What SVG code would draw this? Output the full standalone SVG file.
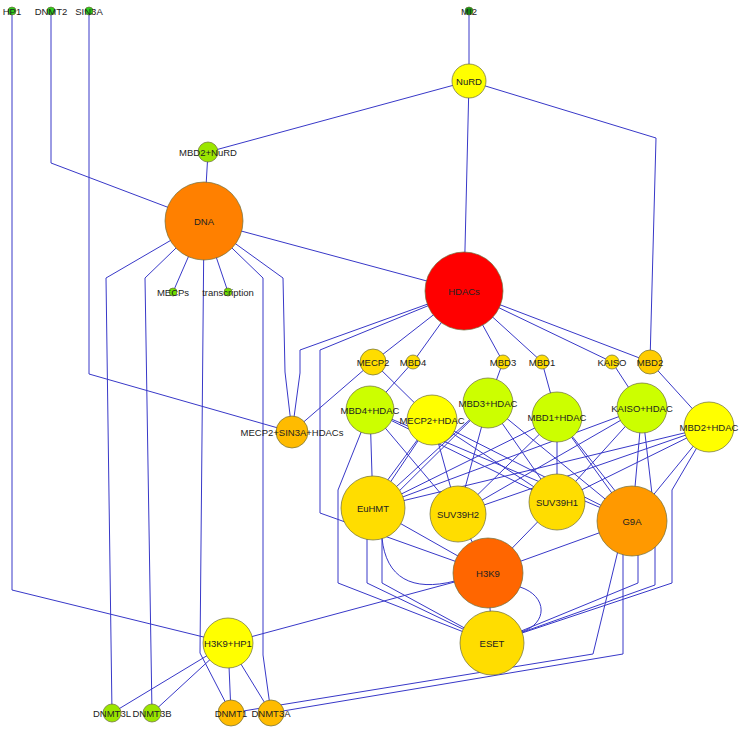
<svg xmlns="http://www.w3.org/2000/svg" width="740" height="729" viewBox="0 0 740 729">
<style>
.e{fill:none;stroke:#3838c8;stroke-width:1}
.n{stroke:#6b6b3a;stroke-width:0.7}
text{font-family:"Liberation Sans",Arial,sans-serif;font-size:9.5px;fill:#222;text-anchor:middle}
.g1{fill:#2ccf1c}.g2{fill:#129a12}.g3{fill:#6ee000}.g4{fill:#9be600}.yg{fill:#ccff00}
.y{fill:#ffff00}.gd{fill:#ffdd00}.gd2{fill:#ffcc00}.og{fill:#ffbb00}.o9{fill:#ff9900}.o8{fill:#ff8000}.o6{fill:#ff6600}.r{fill:#ff0000}
</style>
<rect width="740" height="729" fill="#fff"/>
<g id="edges">
<polyline class="e" points="12,11 12,590 228,643"/>
<polyline class="e" points="51,11 51,163 204,221"/>
<polyline class="e" points="89,11 89,374 292,432"/>
<polyline class="e" points="469,11 469,81"/>
<polyline class="e" points="469,81 208,152"/>
<polyline class="e" points="469,81 464,291"/>
<polyline class="e" points="469,81 656,138 650,362"/>
<polyline class="e" points="208,152 204,221"/>
<polyline class="e" points="204,221 464,291"/>
<polyline class="e" points="204,221 173,292"/>
<polyline class="e" points="204,221 228,292"/>
<polyline class="e" points="204,221 106,278 112,713"/>
<polyline class="e" points="204,221 145,278 152,713"/>
<polyline class="e" points="204,221 200,653 231,713"/>
<polyline class="e" points="204,221 263,278 263,655 271,713"/>
<polyline class="e" points="204,221 283,278 285,372 292,432"/>
<polyline class="e" points="464,291 300,350 300,373 292,432"/>
<polyline class="e" points="464,291 320,350 320,513 488,573"/>
<polyline class="e" points="464,291 373,362"/>
<polyline class="e" points="464,291 413,362"/>
<polyline class="e" points="464,291 503,362"/>
<polyline class="e" points="464,291 542,362"/>
<polyline class="e" points="464,291 612,362"/>
<polyline class="e" points="464,291 650,362"/>
<polyline class="e" points="373,362 292,432"/>
<polyline class="e" points="373,362 432,420"/>
<polyline class="e" points="413,362 370,410"/>
<polyline class="e" points="503,362 488,403"/>
<polyline class="e" points="542,362 557,417"/>
<polyline class="e" points="612,362 642,408"/>
<polyline class="e" points="650,362 709,427"/>
<polyline class="e" points="370,410 373,508"/>
<polyline class="e" points="370,410 458,514"/>
<polyline class="e" points="370,410 557,502"/>
<polyline class="e" points="370,410 632,521"/>
<polyline class="e" points="432,420 373,508"/>
<polyline class="e" points="432,420 458,514"/>
<polyline class="e" points="432,420 557,502"/>
<polyline class="e" points="432,420 632,521"/>
<polyline class="e" points="488,403 373,508"/>
<polyline class="e" points="488,403 458,514"/>
<polyline class="e" points="488,403 557,502"/>
<polyline class="e" points="488,403 632,521"/>
<polyline class="e" points="557,417 373,508"/>
<polyline class="e" points="557,417 458,514"/>
<polyline class="e" points="557,417 557,502"/>
<polyline class="e" points="557,417 632,521"/>
<polyline class="e" points="642,408 373,508"/>
<polyline class="e" points="642,408 458,514"/>
<polyline class="e" points="642,408 557,502"/>
<polyline class="e" points="642,408 632,521"/>
<polyline class="e" points="709,427 373,508"/>
<polyline class="e" points="709,427 458,514"/>
<polyline class="e" points="709,427 557,502"/>
<polyline class="e" points="709,427 632,521"/>
<polyline class="e" points="370,410 338,490 338,583 492,643"/>
<polyline class="e" points="432,420 367,508 367,583 492,643"/>
<polyline class="e" points="488,403 382,508 382,583 492,643"/>
<polyline class="e" points="557,417 638,520 638,583 492,643"/>
<polyline class="e" points="642,408 655,520 655,585 492,643"/>
<polyline class="e" points="709,427 672,490 672,583 492,643"/>
<polyline class="e" points="373,508 488,573"/>
<path class="e" d="M382,538 C386,578 412,592 455,581"/>
<polyline class="e" points="458,514 488,573"/>
<polyline class="e" points="557,502 488,573"/>
<polyline class="e" points="632,521 488,573"/>
<polyline class="e" points="488,573 492,643"/>
<path class="e" d="M520,587 C548,596 548,624 521,632"/>
<polyline class="e" points="488,573 228,643"/>
<polyline class="e" points="228,643 112,713"/>
<polyline class="e" points="228,643 152,713"/>
<polyline class="e" points="228,643 231,713"/>
<polyline class="e" points="228,643 271,713"/>
<polyline class="e" points="623,530 593,654 231,713"/>
<polyline class="e" points="623,530 623,654 271,713"/>
</g>
<g id="n-HP1"><circle class="n g1" cx="12" cy="11" r="4"/><text x="12" y="14.5">HP1</text></g>
<g id="n-DNMT2"><circle class="n g1" cx="51" cy="11" r="4"/><text x="51" y="14.5">DNMT2</text></g>
<g id="n-SIN3A"><circle class="n g1" cx="89" cy="11" r="4"/><text x="89" y="14.5">SIN3A</text></g>
<g id="n-MI2"><circle class="n g2" cx="469" cy="11" r="4"/><text x="469" y="14.5">MI2</text></g>
<g id="n-NuRD"><circle class="n y" cx="469" cy="81" r="17"/><text x="469" y="84.5">NuRD</text></g>
<g id="n-MBD2NuRD"><circle class="n g4" cx="208" cy="152" r="10"/><text x="208" y="155.5">MBD2+NuRD</text></g>
<g id="n-DNA"><circle class="n o8" cx="204" cy="221" r="39"/><text x="204" y="224.5">DNA</text></g>
<g id="n-HDACs"><circle class="n r" cx="464" cy="291" r="39"/><text x="464" y="294.5">HDACs</text></g>
<g id="n-MECPs"><circle class="n g3" cx="173" cy="292" r="4"/><text x="173" y="295.5">MECPs</text></g>
<g id="n-transcription"><circle class="n g3" cx="228" cy="292" r="4"/><text x="228" y="295.5">transcription</text></g>
<g id="n-MECP2"><circle class="n gd" cx="373" cy="362" r="13"/><text x="373" y="365.5">MECP2</text></g>
<g id="n-MBD4"><circle class="n gd" cx="413" cy="362" r="7"/><text x="413" y="365.5">MBD4</text></g>
<g id="n-MBD3"><circle class="n gd" cx="503" cy="362" r="7"/><text x="503" y="365.5">MBD3</text></g>
<g id="n-MBD1"><circle class="n gd" cx="542" cy="362" r="7"/><text x="542" y="365.5">MBD1</text></g>
<g id="n-KAISO"><circle class="n gd" cx="612" cy="362" r="7"/><text x="612" y="365.5">KAISO</text></g>
<g id="n-MBD2"><circle class="n gd2" cx="650" cy="362" r="12"/><text x="650" y="365.5">MBD2</text></g>
<g id="n-MECP2SIN3AHDACs"><circle class="n og" cx="292" cy="432" r="16"/><text x="292" y="435.5">MECP2+SIN3A+HDACs</text></g>
<g id="n-MBD4HDAC"><circle class="n yg" cx="370" cy="410" r="24"/><text x="370" y="413.5">MBD4+HDAC</text></g>
<g id="n-MECP2HDAC"><circle class="n y" cx="432" cy="420" r="25"/><text x="432" y="423.5">MECP2+HDAC</text></g>
<g id="n-MBD3HDAC"><circle class="n yg" cx="488" cy="403" r="25"/><text x="488" y="406.5">MBD3+HDAC</text></g>
<g id="n-MBD1HDAC"><circle class="n yg" cx="557" cy="417" r="25"/><text x="557" y="420.5">MBD1+HDAC</text></g>
<g id="n-KAISOHDAC"><circle class="n yg" cx="642" cy="408" r="25"/><text x="642" y="411.5">KAISO+HDAC</text></g>
<g id="n-MBD2HDAC"><circle class="n y" cx="709" cy="427" r="25"/><text x="709" y="430.5">MBD2+HDAC</text></g>
<g id="n-EuHMT"><circle class="n gd" cx="373" cy="508" r="32"/><text x="373" y="511.5">EuHMT</text></g>
<g id="n-SUV39H2"><circle class="n gd" cx="458" cy="514" r="28"/><text x="458" y="517.5">SUV39H2</text></g>
<g id="n-SUV39H1"><circle class="n gd" cx="557" cy="502" r="28"/><text x="557" y="505.5">SUV39H1</text></g>
<g id="n-G9A"><circle class="n o9" cx="632" cy="521" r="35"/><text x="632" y="524.5">G9A</text></g>
<g id="n-H3K9"><circle class="n o6" cx="488" cy="573" r="35"/><text x="488" y="576.5">H3K9</text></g>
<g id="n-ESET"><circle class="n gd" cx="492" cy="643" r="32"/><text x="492" y="646.5">ESET</text></g>
<g id="n-H3K9HP1"><circle class="n y" cx="228" cy="643" r="25"/><text x="228" y="646.5">H3K9+HP1</text></g>
<g id="n-DNMT3L"><circle class="n g4" cx="112" cy="713" r="9"/><text x="112" y="716.5">DNMT3L</text></g>
<g id="n-DNMT3B"><circle class="n g4" cx="152" cy="713" r="9"/><text x="152" y="716.5">DNMT3B</text></g>
<g id="n-DNMT1"><circle class="n og" cx="231" cy="713" r="13"/><text x="231" y="716.5">DNMT1</text></g>
<g id="n-DNMT3A"><circle class="n og" cx="271" cy="713" r="13"/><text x="271" y="716.5">DNMT3A</text></g>
</svg>
